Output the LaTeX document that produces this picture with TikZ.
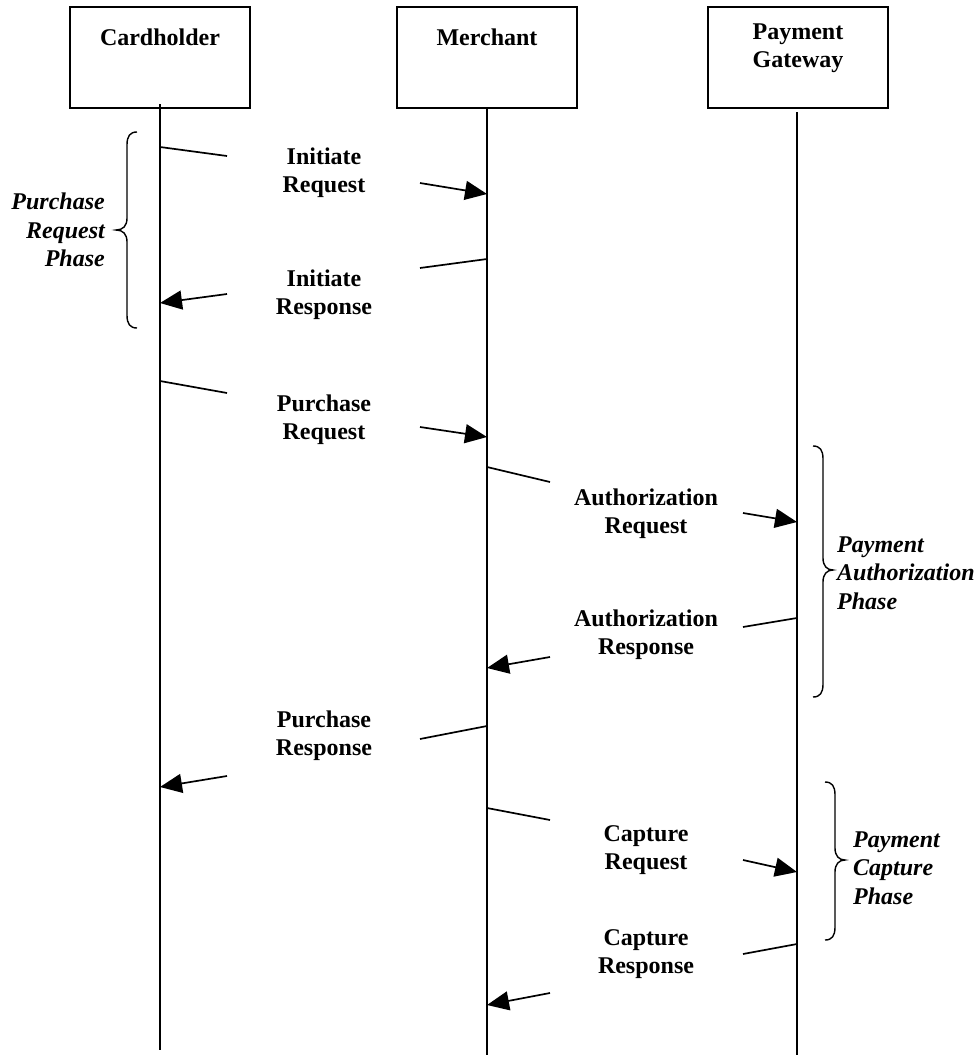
\documentclass[tikz,border=0pt]{standalone}
\usepackage{fontspec}
\setmainfont{Liberation Serif}
\usetikzlibrary{arrows.meta}
\begin{document}
\begin{tikzpicture}[x=1pt,y=-1pt,
  box/.style={draw, line width=1.7pt, minimum width=180pt, minimum height=101pt, inner sep=0pt},
  lbl/.style={font=\fontsize{24}{28}\selectfont\bfseries, align=center, inner sep=0pt},
  phase/.style={font=\fontsize{24}{28.5}\selectfont\bfseries\itshape, inner sep=0pt},
  life/.style={line width=1.7pt},
  msg/.style={line width=1.7pt},
  arr/.style={line width=1.7pt, -{Triangle[length=22pt,width=19pt]}},
  brace/.style={line width=1.4pt}]
\useasboundingbox (0,0) rectangle (978,1055);
% actor boxes
\node[box] (ch) at (160,57.5) {};
\node[box] (me) at (487,57.5) {};
\node[box] (pg) at (798,57.5) {};
\node[lbl] (chT) at (160,37) {Cardholder};
\node[lbl] (meT) at (487,37) {Merchant};
\node[lbl] (pgT) at (798,48) {Payment\\Gateway};
% lifeline ends
\coordinate (chE) at (160,1050);
\coordinate (meE) at (487,1055);
\coordinate (pgE) at (797,1055);
\coordinate (pgS) at (797,112);
\coordinate (chS) at (160,104);
\draw[life] (chS) -- (chE);
\draw[life] (me.south) -- (meE);
\draw[life] (pgS) -- (pgE);
% message points
\coordinate (m1a) at (160,147); \coordinate (m1b) at (227,156);
\coordinate (m1c) at (420,183); \coordinate (m1d) at (487,194);
\coordinate (m2a) at (487,259); \coordinate (m2b) at (420,268);
\coordinate (m2c) at (227,294); \coordinate (m2d) at (160,303);
\coordinate (m3a) at (160,381); \coordinate (m3b) at (227,393);
\coordinate (m3c) at (420,427); \coordinate (m3d) at (487,437);
\coordinate (m4a) at (487,467); \coordinate (m4b) at (550,482);
\coordinate (m4c) at (743,513); \coordinate (m4d) at (797,522);
\coordinate (m5a) at (797,618); \coordinate (m5b) at (743,627);
\coordinate (m5c) at (550,657); \coordinate (m5d) at (487,668);
\coordinate (m6a) at (487,726); \coordinate (m6b) at (420,739);
\coordinate (m6c) at (227,776); \coordinate (m6d) at (160,787);
\coordinate (m7a) at (487,808); \coordinate (m7b) at (550,820);
\coordinate (m7c) at (743,860); \coordinate (m7d) at (797,872);
\coordinate (m8a) at (797,944); \coordinate (m8b) at (743,954);
\coordinate (m8c) at (550,993); \coordinate (m8d) at (487,1005);
\foreach \i in {1,...,8}{
  \draw[msg] (m\i a) -- (m\i b);
  \draw[arr] (m\i c) -- (m\i d);
}
% message labels
\node[lbl] (l1) at (324,173) {Initiate\\Request};
\node[lbl] (l2) at (324,295) {Initiate\\Response};
\node[lbl] (l3) at (324,420) {Purchase\\Request};
\node[lbl] (l4) at (646,514) {Authorization\\Request};
\node[lbl] (l5) at (646,635) {Authorization\\Response};
\node[lbl] (l6) at (324,736) {Purchase\\Response};
\node[lbl] (l7) at (646,850) {Capture\\Request};
\node[lbl] (l8) at (646,954) {Capture\\Response};
% braces
\draw[brace] (137,132) .. controls (130,132) and (127,136) .. (127,145) -- (127,218)
  .. controls (127,226) and (123,230) .. (116,230)
  .. controls (123,230) and (127,234) .. (127,242) -- (127,315)
  .. controls (127,324) and (130,328) .. (137,328);
\draw[brace] (813,446) .. controls (820,446) and (823,450) .. (823,459) -- (823,558)
  .. controls (823,566) and (827,570) .. (833,570)
  .. controls (827,570) and (823,574) .. (823,582) -- (823,684)
  .. controls (823,693) and (820,697) .. (813,697);
\draw[brace] (825,782) .. controls (832,782) and (835,786) .. (835,795) -- (835,848)
  .. controls (835,856) and (839,860) .. (845,860)
  .. controls (839,860) and (835,864) .. (835,872) -- (835,927)
  .. controls (835,936) and (832,940) .. (825,940);
% phase labels
\node[phase, align=right, anchor=east] (p1) at (105,230) {Purchase\\Request\\Phase};
\node[phase, align=left, anchor=west] (p2) at (837,573) {Payment\\Authorization\\Phase};
\node[phase, align=left, anchor=west] (p3) at (853,868) {Payment\\Capture\\Phase};
\end{tikzpicture}
\end{document}
